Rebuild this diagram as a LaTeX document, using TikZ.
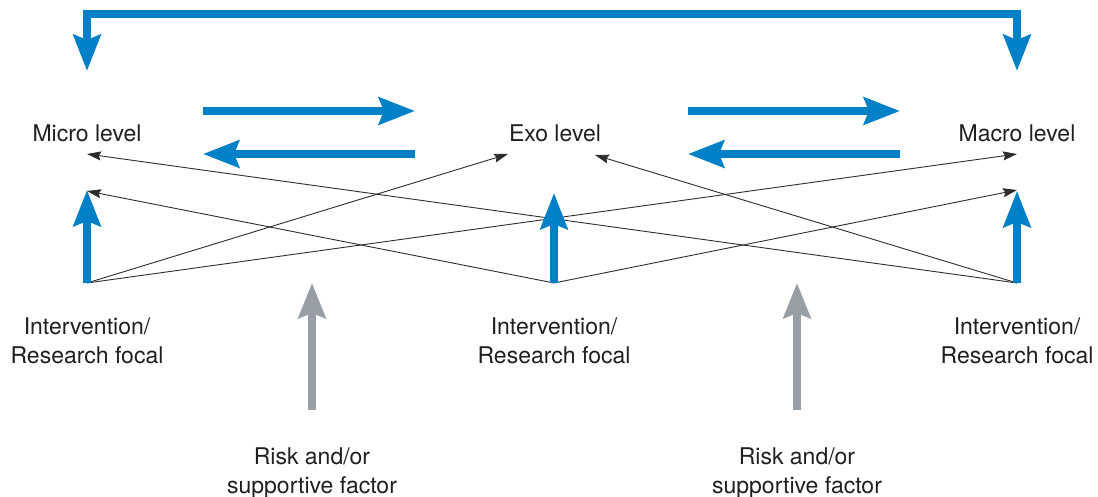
\documentclass[tikz,border=0pt]{standalone}
\usepackage{fontspec}
\setmainfont{TeX Gyre Heros}
\usetikzlibrary{arrows.meta}
\definecolor{flowblue}{RGB}{0,128,198}
\definecolor{factorgrey}{RGB}{152,158,165}
\definecolor{thinline}{RGB}{45,45,45}
\tikzset{
  bluearrow/.style={draw=flowblue,line width=7.5pt,-{Stealth[length=36pt,width=27pt,inset=5pt]}},
  greyarrow/.style={draw=factorgrey,line width=8pt,-{Stealth[length=35pt,width=27pt,inset=5pt]}},
  thinarrow/.style={draw=thinline,line width=0.9pt,-{Stealth[length=14pt,width=9pt,inset=2pt]}},
  lbl/.style={font=\fontsize{23}{29}\selectfont,text=black!88,inner sep=0pt,anchor=base,align=center},
}
\begin{document}
\begin{tikzpicture}[x=1pt,y=-1pt]
\useasboundingbox (0,0) rectangle (1098,497);
% labels (base anchor = baseline of last line)
\node[lbl] (micro) at (87,142) {Micro level};
\node[lbl] (exo) at (555,142) {Exo level};
\node[lbl] (macro) at (1017,142) {Macro level};
\node[lbl] (focL) at (87,363) {Intervention/\\Research focal};
\node[lbl] (focM) at (554,363) {Intervention/\\Research focal};
\node[lbl] (focR) at (1017,363) {Intervention/\\Research focal};
\node[lbl] (riskL) at (312,493) {Risk and/or\\supportive factor};
\node[lbl] (riskR) at (797,493) {Risk and/or\\supportive factor};
% coordinates
\coordinate (tipTL) at (87,71);
\coordinate (cornL) at (87,14);
\coordinate (cornR) at (1017,14);
\coordinate (tipTR) at (1017,71);
\coordinate (h1a) at (203,111); \coordinate (h1b) at (415,111);
\coordinate (h2a) at (415,154); \coordinate (h2b) at (203,154);
\coordinate (h3a) at (688,111); \coordinate (h3b) at (900,111);
\coordinate (h4a) at (900,154); \coordinate (h4b) at (688,154);
\coordinate (baseL) at (87,283);
\coordinate (baseM) at (554,283);
\coordinate (baseR) at (1017,283);
\coordinate (upL) at (87,190);
\coordinate (upM) at (554,193);
\coordinate (upR) at (1017,191);
\coordinate (microHi) at (87,154);
\coordinate (microLo) at (87,191);
\coordinate (exoL) at (508,154);
\coordinate (exoR) at (595,155);
\coordinate (macroHi) at (1017,154);
\coordinate (macroLo) at (1017,190);
\coordinate (gL0) at (312,410); \coordinate (gL1) at (312,283);
\coordinate (gR0) at (797,410); \coordinate (gR1) at (797,283);
% top bracket
\draw[draw=flowblue,line width=8pt,line join=miter,{Stealth[length=36pt,width=27pt,inset=5pt]}-{Stealth[length=36pt,width=27pt,inset=5pt]}]
  (tipTL) -- (cornL) -- (cornR) -- (tipTR);
% horizontal arrows
\draw[bluearrow] (h1a) -- (h1b);
\draw[bluearrow] (h2a) -- (h2b);
\draw[bluearrow] (h3a) -- (h3b);
\draw[bluearrow] (h4a) -- (h4b);
% thin arrows
\draw[thinarrow] (baseL) -- (exoL);
\draw[thinarrow] (baseL) -- (macroHi);
\draw[thinarrow] (baseM) -- (microLo);
\draw[thinarrow] (baseM) -- (macroLo);
\draw[thinarrow] (baseR) -- (microHi);
\draw[thinarrow] (baseR) -- (exoR);
% vertical blue arrows
\draw[bluearrow] (baseL) -- (upL);
\draw[bluearrow] (baseM) -- (upM);
\draw[bluearrow] (baseR) -- (upR);
% grey arrows
\draw[greyarrow] (gL0) -- (gL1);
\draw[greyarrow] (gR0) -- (gR1);
\end{tikzpicture}
\end{document}
